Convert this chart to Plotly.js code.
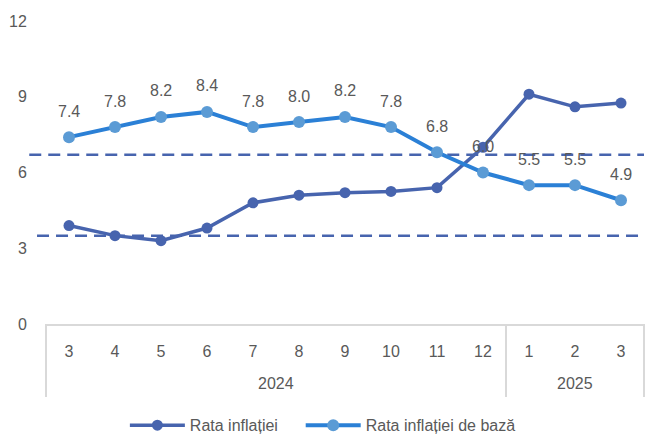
<!DOCTYPE html>
<html>
<head>
<meta charset="utf-8">
<script src="https://cdn.plot.ly/plotly-3.0.1.min.js"></script>
<style>
html,body{margin:0;padding:0;background:#fff;}
#chart{width:645px;height:434px;}
</style>
</head>
<body>
<div id="chart"></div>
<script>
var years = ['2024','2024','2024','2024','2024','2024','2024','2024','2024','2024','2025','2025','2025'];
var months = ['3','4','5','6','7','8','9','10','11','12','1','2','3'];
var headline = [3.9, 3.5, 3.3, 3.8, 4.8, 5.1, 5.2, 5.25, 5.4, 7.0, 9.1, 8.6, 8.75];
var core = [7.4, 7.8, 8.2, 8.4, 7.8, 8.0, 8.2, 7.8, 6.8, 6.0, 5.5, 5.5, 4.9];
var coreLabels = ['7.4','7.8','8.2','8.4','7.8','8.0','8.2','7.8','6.8','6.0','5.5','5.5','4.9'];
var seriesNames = ['Rata inflației', 'Rata inflației de bază'];
var bandUpper = 6.7;
var bandLower = 3.5;
var yTicks = [0, 3, 6, 9, 12];

var textColor = '#595959';
var boxColor = '#d9d9d9';
var font = 'Liberation Sans, Arial, sans-serif';
var legendPad = '\u00a0\u00a0\u00a0\u00a0';

// unique category keys (year-month), displayed as month numbers
var keys = months.map(function (m, i) { return years[i] + '-' + m; });

var traces = [
  {
    x: keys, y: headline, type: 'scatter', mode: 'lines+markers',
    name: seriesNames[0] + legendPad,
    line: {color: '#4764ae', width: 3.5},
    marker: {color: '#4764ae', size: 11}
  },
  {
    x: keys, y: core, type: 'scatter', mode: 'lines+markers',
    name: seriesNames[1],
    line: {color: '#2b80d6', width: 4},
    marker: {color: '#5b9bd5', size: 12}
  }
];

var annotations = core.map(function (v, i) {
  return {
    x: keys[i], y: v, xref: 'x', yref: 'y',
    text: coreLabels[i], showarrow: false, yshift: 26,
    font: {family: font, size: 16, color: textColor}
  };
});

// year group labels and dividers
var groups = [];
years.forEach(function (y, i) {
  var g = groups.length ? groups[groups.length - 1] : null;
  if (!g || g.year !== y) groups.push({year: y, first: i, last: i});
  else g.last = i;
});
var boxDepth = -0.241;
var shapes = [];
groups.forEach(function (g, gi) {
  annotations.push({
    x: (g.first + g.last) / 2, y: -0.195, xref: 'x', yref: 'paper',
    text: g.year, showarrow: false, yanchor: 'middle',
    font: {family: font, size: 16, color: textColor}
  });
  if (gi > 0) {
    shapes.push({type: 'line', xref: 'x', yref: 'paper', x0: g.first - 0.5, x1: g.first - 0.5,
      y0: 0, y1: boxDepth, line: {color: boxColor, width: 2}});
  }
});
shapes.push({type: 'line', xref: 'paper', yref: 'paper', x0: 0, x1: 0, y0: 0, y1: boxDepth,
  line: {color: boxColor, width: 2}});
shapes.push({type: 'line', xref: 'paper', yref: 'paper', x0: 1, x1: 1, y0: 0, y1: boxDepth,
  line: {color: boxColor, width: 2}});
shapes.push({type: 'line', xref: 'paper', yref: 'y', x0: -0.028, x1: 1, y0: bandUpper, y1: bandUpper,
  line: {color: '#4764ae', width: 2.5, dash: '12px,7px'}, layer: 'below'});
shapes.push({type: 'line', xref: 'paper', yref: 'y', x0: -0.015, x1: 1, y0: bandLower, y1: bandLower,
  line: {color: '#4764ae', width: 2.5, dash: '12px,7px'}, layer: 'below'});

var layout = {
  width: 645, height: 434,
  margin: {l: 46, r: 1, t: 21, b: 110},
  paper_bgcolor: '#fff', plot_bgcolor: '#fff',
  font: {family: font, size: 16, color: textColor},
  showlegend: true,
  legend: {
    orientation: 'h', x: 0.463, xanchor: 'center',
    yref: 'container', y: 0.02, yanchor: 'middle',
    itemwidth: 55,
    font: {family: font, size: 16, color: textColor}
  },
  xaxis: {
    type: 'category', range: [-0.5, keys.length - 0.5],
    tickvals: keys, ticktext: months,
    showgrid: false, zeroline: false,
    showline: true, linecolor: boxColor, linewidth: 2,
    ticks: 'outside', ticklen: 12, tickcolor: 'rgba(0,0,0,0)',
    tickfont: {family: font, size: 16, color: textColor}
  },
  yaxis: {
    range: [0, 12], tickvals: yTicks, ticktext: yTicks.map(String),
    showgrid: false, zeroline: false, showline: false,
    ticks: 'outside', ticklen: 15, tickcolor: 'rgba(0,0,0,0)',
    tickfont: {family: font, size: 16, color: textColor}
  },
  shapes: shapes,
  annotations: annotations
};

Plotly.newPlot('chart', traces, layout, {displayModeBar: false, staticPlot: true});
</script>
</body>
</html>
